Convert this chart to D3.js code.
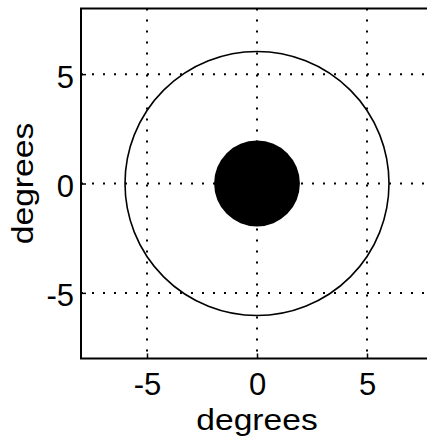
<!DOCTYPE html>
<html>
<head>
<meta charset="utf-8">
<script src="https://cdn.jsdelivr.net/npm/d3@7"></script>
<style>
  html, body { margin: 0; padding: 0; background: #fff; }
  svg { display: block; }
  text { font-family: "Liberation Sans", Arial, Helvetica, sans-serif; fill: #000; }
</style>
</head>
<body>
<div id="chart"></div>
<script>
// axis limits and ticks (degrees)
const xDomain = [-8, 8];
const yDomain = [-8, 8];
const xTicks = [-5, 0, 5];
const yTicks = [-5, 0, 5];

// circles centred on the origin
const circleRadii = [6, 1.95];
const circleFilled = [false, true];

const axisLabel = 'degrees';

const W = 427, H = 436;
const plot = { left: 81, right: 433, top: 8.5, bottom: 358.5 };

const svg = d3.select('#chart').append('svg')
  .attr('width', W)
  .attr('height', H);

const x = d3.scaleLinear().domain(xDomain).range([plot.left, plot.right]);
const y = d3.scaleLinear().domain(yDomain).range([plot.bottom, plot.top]);

// dotted grid
const grid = svg.append('g')
  .attr('stroke', '#000')
  .attr('stroke-width', 2)
  .attr('stroke-dasharray', '2,9');
grid.selectAll('line.vx')
  .data(xTicks)
  .enter().append('line')
    .attr('x1', d => x(d)).attr('x2', d => x(d))
    .attr('y1', plot.top).attr('y2', plot.bottom);
grid.selectAll('line.hy')
  .data(yTicks)
  .enter().append('line')
    .attr('y1', d => y(d)).attr('y2', d => y(d))
    .attr('x1', plot.left).attr('x2', plot.right);

// circles
const unit = x(1) - x(0);
svg.selectAll('circle.ring')
  .data(circleRadii)
  .enter().append('circle')
    .attr('cx', x(0))
    .attr('cy', y(0))
    .attr('r', d => d * unit)
    .attr('fill', (d, i) => circleFilled[i] ? '#000' : 'none')
    .attr('stroke', '#000')
    .attr('stroke-width', (d, i) => circleFilled[i] ? 0 : 1.6);

// axes box (right edge falls outside the window)
svg.append('path')
  .attr('d', `M${plot.right},${plot.top}H${plot.left}V${plot.bottom}H${plot.right}`)
  .attr('fill', 'none')
  .attr('stroke', '#000')
  .attr('stroke-width', 2);

// axes
const xAxis = svg.append('g')
  .attr('transform', `translate(0,${plot.bottom})`)
  .call(d3.axisBottom(x).tickValues(xTicks).tickSizeInner(-5).tickSizeOuter(0).tickPadding(14).tickFormat(d3.format('d')));
const yAxis = svg.append('g')
  .attr('transform', `translate(${plot.left},0)`)
  .call(d3.axisLeft(y).tickValues(yTicks).tickSizeInner(-5).tickSizeOuter(0).tickPadding(7).tickFormat(d3.format('d')));

[xAxis, yAxis].forEach(a => {
  a.select('.domain').remove();
  a.selectAll('.tick line').attr('stroke', '#000').attr('stroke-width', 1.5);
  a.selectAll('.tick text')
    .text(d => String(d).replace('\u2212', '-'))
    .style('font-size', '31px')
    .attr('font-family', null);
});
xAxis.selectAll('.tick text').attr('dy', '0.71em');
yAxis.selectAll('.tick text').attr('dy', '0.42em');

// axis titles
svg.append('text')
  .attr('transform', `translate(${x(0)},430) scale(1.12,1)`)
  .attr('text-anchor', 'middle')
  .style('font-size', '30px')
  .text(axisLabel);

svg.append('text')
  .attr('transform', `translate(33,${y(0)}) rotate(-90) scale(1.12,1)`)
  .attr('text-anchor', 'middle')
  .style('font-size', '30px')
  .text(axisLabel);
</script>
</body>
</html>
